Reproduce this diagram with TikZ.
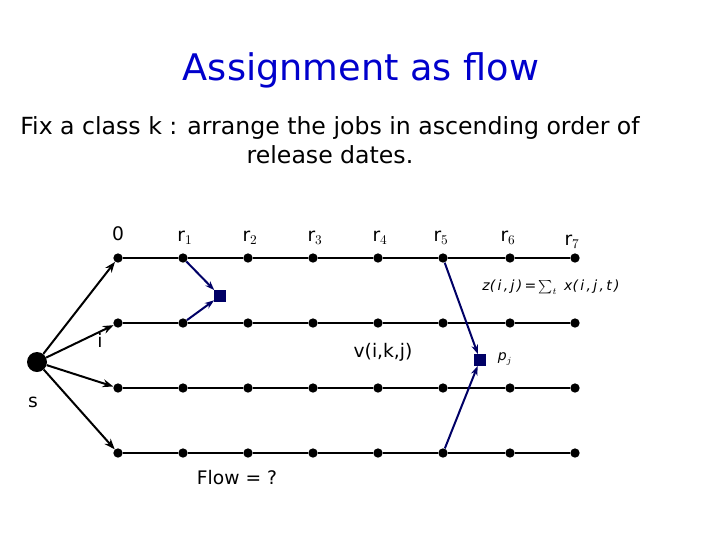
\documentclass[tikz,border=0pt]{standalone}
\usepackage{fontspec}
\setmainfont{DejaVu Sans}
\usetikzlibrary{arrows.meta}
\begin{document}
\begin{tikzpicture}[x=0.75pt,y=-0.75pt,
  dot/.style={circle,fill=black,inner sep=0pt,minimum size=7pt},
  sq/.style={rectangle,fill=blue!40!black,inner sep=0pt,minimum size=8.5pt},
  lbl/.style={font=\fontsize{14}{16}\selectfont},
  arr/.style={-{Stealth[length=8pt,width=6pt]},line width=1.5pt},
  barr/.style={-{Stealth[length=7pt,width=5pt]},line width=1.5pt,draw=blue!40!black}]
\useasboundingbox (0,0) rectangle (720,540);
\node[text=blue!80!black,font=\fontsize{27.5}{30}\selectfont] (title) at (361,70) {Assignment as flow};
\node[font=\fontsize{17.7}{22}\selectfont,align=center] (sub) at (330,140) {Fix a class k : arrange the jobs in ascending order of\\release dates.};
\foreach \x [count=\i] in {118,183,248,313,378,443,510,575}{
  \foreach \y [count=\j] in {258,323,388,453}{
    \node[dot] (n\i-\j) at (\x,\y) {};
  }
}
\foreach \j in {1,...,4}{
  \foreach \i [evaluate=\i as \k using int(\i+1)] in {1,...,7}{
    \draw[line width=1.5pt] (n\i-\j) -- (n\k-\j);
  }
}
\node[circle,fill=black,inner sep=0pt,minimum size=15pt] (s) at (37,362) {};
\foreach \j in {1,...,4}{\draw[arr] (s) -- (n1-\j);}
\node[lbl] (ls) at (33,402) {s};
\node[lbl] (li) at (100,340) {i};
\node[lbl] (l0) at (118,234) {0};
\node[lbl] (l1) at (185,238) {r$_1$};
\node[lbl] (l2) at (250,238) {r$_2$};
\node[lbl] (l3) at (315,238) {r$_3$};
\node[lbl] (l4) at (380,238) {r$_4$};
\node[lbl] (l5) at (441,238) {r$_5$};
\node[lbl] (l6) at (508,238) {r$_6$};
\node[lbl] (l7) at (572,242) {r$_7$};
\node[sq] (q1) at (220,296) {};
\node[sq] (q2) at (480,360) {};
\draw[barr] (n2-1) -- (q1);
\draw[barr] (n2-2) -- (q1);
\draw[barr] (n6-1) -- (q2);
\draw[barr] (n6-4) -- (q2);
\node[font=\fontsize{10.5}{12}\selectfont\itshape] (z) at (551,287) {z(\,i\,,\,j\,)\,=\,$\sum_{t}$\, x(\,i\,,\,j\,,\,t\,)};
\node[font=\fontsize{10.5}{12}\selectfont\itshape] (pj) at (505,359) {p$_{j}$};
\node[lbl] (v) at (383,352) {v(i,k,j)};
\node[lbl] (flow) at (237,478) {Flow = ?};
\end{tikzpicture}
\end{document}
